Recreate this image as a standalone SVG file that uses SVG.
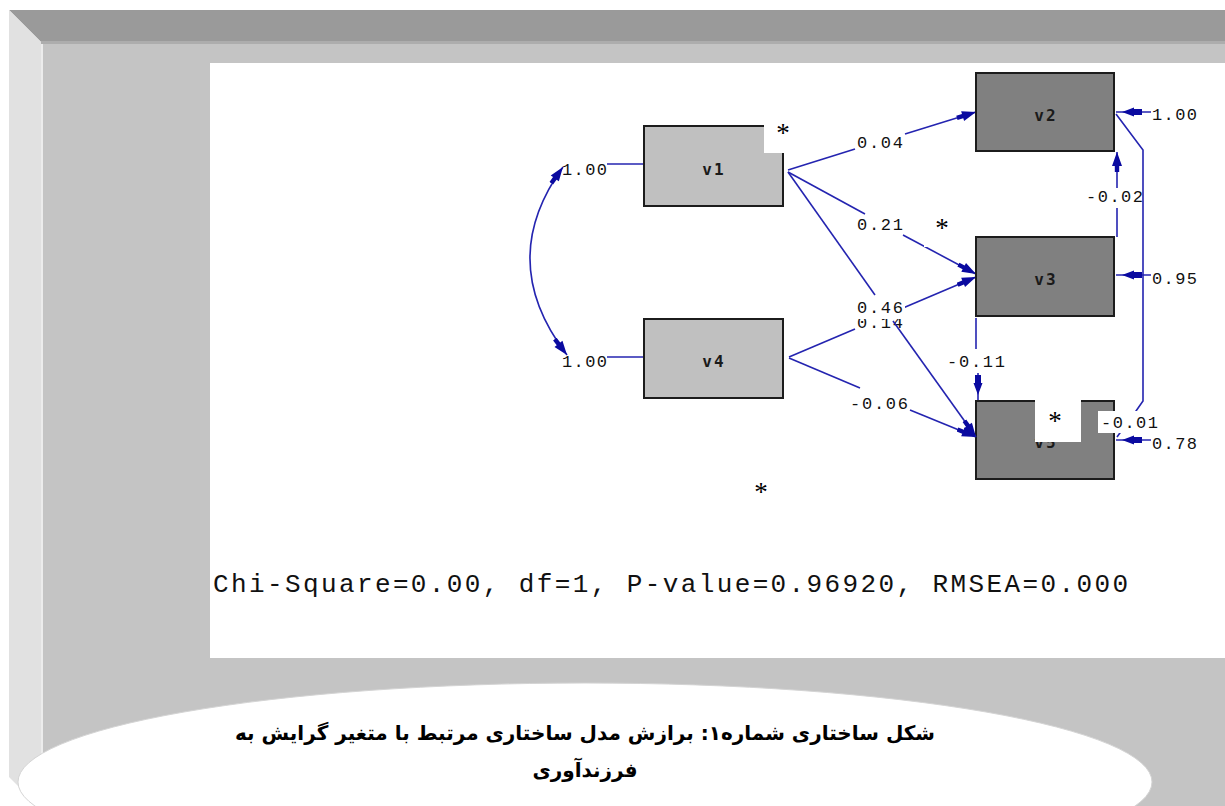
<svg xmlns="http://www.w3.org/2000/svg" width="1225" height="806" viewBox="0 0 1225 806">
<defs>
<style>
.obs1{fill:#c0c0c0;stroke:#1c1c1c;stroke-width:2}
.obs2{fill:#808080;stroke:#1c1c1c;stroke-width:2}
.nl{font-family:"DejaVu Sans Mono","Liberation Mono",monospace;font-weight:bold;font-size:16px;letter-spacing:2px;fill:#1a1a1a;text-anchor:middle}
.ln{fill:none;stroke:#2424b0;stroke-width:1.6}
.lb{font-family:"Liberation Mono","DejaVu Sans Mono",monospace;font-size:17px;fill:#111}
.ast{font-family:"Liberation Serif",serif;font-size:27px;fill:#000}
.cap{font-family:"DejaVu Sans","Noto Sans",sans-serif;font-weight:bold;font-size:20px;fill:#000}
</style>
<marker id="ah" viewBox="0 -6 20 12" markerUnits="userSpaceOnUse" markerWidth="20" markerHeight="12" refX="20" refY="0" orient="auto-start-reverse">
<path d="M20,0 L6,-5 L6,-2.2 L0,-2.2 L0,2.2 L6,2.2 L6,5 Z" fill="#0a0aa0"/>
</marker>
<marker id="ae" viewBox="0 -6 26 12" markerUnits="userSpaceOnUse" markerWidth="26" markerHeight="12" refX="26" refY="0" orient="auto">
<path d="M20,0 L8,-4.5 L8,-3 L0,-3 L0,3 L8,3 L8,4.5 Z" fill="#0a0aa0"/>
</marker>
</defs>
<g id="frame">
<rect x="0" y="0" width="1225" height="806" fill="#ffffff"/>
<rect x="41" y="42" width="1184" height="764" fill="#c4c4c4"/>
<polygon points="9,10 1225,10 1225,42 41,42" fill="#9a9a9a"/>
<rect x="41" y="41" width="1184" height="3" fill="#adadad"/>
<polygon points="9,10 41,42 41,806 38,806 9,777" fill="#e1e1e1"/>
<rect x="41" y="44" width="2" height="762" fill="#ececec"/>
<rect x="210" y="63" width="1015" height="595" fill="#ffffff"/>
</g>
<g id="connectors">
<path class="ln" d="M563,167 Q495,261 567,355" marker-start="url(#ah)" marker-end="url(#ah)"/>
<path class="ln" d="M607,164 H644"/>
<path class="ln" d="M607,357 H644"/>
<path class="ln" d="M788,170 L855,149"/>
<path class="ln" d="M905,134 L976,112" marker-end="url(#ah)"/>
<path class="ln" d="M788,172 L865,214"/>
<path class="ln" d="M903,235 L976,274" marker-end="url(#ah)"/>
<path class="ln" d="M789,357 L855,329"/>
<path class="ln" d="M903,308 L976,277" marker-end="url(#ah)"/>
<path class="ln" d="M789,358 L860,388"/>
<path class="ln" d="M910,410 L976,437" marker-end="url(#ah)"/>
<path class="ln" d="M1117,188 V152" marker-end="url(#ah)"/>
<path class="ln" d="M1117,208 V237"/>
<path class="ln" d="M976,318 V349"/>
<path class="ln" d="M978,373 V401" marker-end="url(#ae)"/>
<path class="ln" d="M1151,112 H1116" marker-end="url(#ae)"/>
<path class="ln" d="M1151,275 H1116" marker-end="url(#ae)"/>
<path class="ln" d="M1151,440 H1116" marker-end="url(#ae)"/>
<path class="ln" d="M1116,114 L1143,150 V401 L1136,411 L1117,437"/>
</g>
<g id="v1"><rect class="obs1" x="644" y="126" width="139" height="80"/><text class="nl" x="714" y="175">v1</text></g>
<g id="v4"><rect class="obs1" x="644" y="319" width="139" height="79"/><text class="nl" x="714" y="367">v4</text></g>
<g id="v2"><rect class="obs2" x="976" y="73" width="138" height="78"/><text class="nl" x="1046" y="121">v2</text></g>
<g id="v3"><rect class="obs2" x="976" y="237" width="138" height="79"/><text class="nl" x="1046" y="285">v3</text></g>
<g id="v5"><rect class="obs2" x="976" y="401" width="138" height="78"/><text class="nl" x="1046" y="448">v5</text></g>
<g id="labels">
<text class="lb" x="562" y="175" textLength="45">1.00</text>
<text class="lb" x="562" y="367" textLength="45">1.00</text>
<text class="lb" x="857" y="148" textLength="46">0.04</text>
<text class="lb" x="857" y="230" textLength="46">0.21</text>
<text class="lb" x="857" y="328" textLength="46">0.14</text>
<path class="ln" d="M893,321 L976,437" marker-end="url(#ah)"/>
<path class="ln" d="M788,172 L875,295"/>
<rect x="855" y="298" width="50" height="21" fill="#ffffff"/>
<text class="lb" x="857" y="313" textLength="46">0.46</text>
<text class="lb" x="850" y="409" textLength="58">-0.06</text>
<text class="lb" x="1086" y="202" textLength="57">-0.02</text>
<text class="lb" x="947" y="367" textLength="58">-0.11</text>
<rect x="1098" y="411" width="64" height="22" fill="#ffffff"/>
<text class="lb" x="1101" y="428" textLength="57">-0.01</text>
<text class="lb" x="1152" y="120" textLength="45">1.00</text>
<text class="lb" x="1152" y="284" textLength="45">0.95</text>
<text class="lb" x="1152" y="449" textLength="45">0.78</text>
</g>
<g id="marks">
<rect x="764" y="114" width="38" height="39" fill="#ffffff"/>
<text class="ast" x="783" y="142" text-anchor="middle">*</text>
<rect x="924" y="202" width="38" height="45" fill="#ffffff"/>
<text class="ast" x="942" y="237" text-anchor="middle">*</text>
<rect x="1035" y="394" width="46" height="48" fill="#ffffff"/>
<text class="ast" x="1055" y="430" text-anchor="middle">*</text>
<text class="ast" x="761" y="501" text-anchor="middle">*</text>
</g>
<text x="213" y="592" textLength="915" lengthAdjust="spacing" style="font-family:'Liberation Mono','DejaVu Sans Mono',monospace;font-size:26px;fill:#111">Chi-Square=0.00, df=1, P-value=0.96920, RMSEA=0.000</text>
<g id="caption">
<ellipse cx="585" cy="782" rx="567" ry="99" fill="#ffffff" stroke="#d4d4d4" stroke-width="1"/>
<text class="cap" x="585" y="740" text-anchor="middle" direction="rtl">شکل ساختاری شماره۱: برازش مدل ساختاری مرتبط با متغیر گرایش به</text>
<text class="cap" x="585" y="777" text-anchor="middle" direction="rtl">فرزندآوری</text>
</g>
</svg>
